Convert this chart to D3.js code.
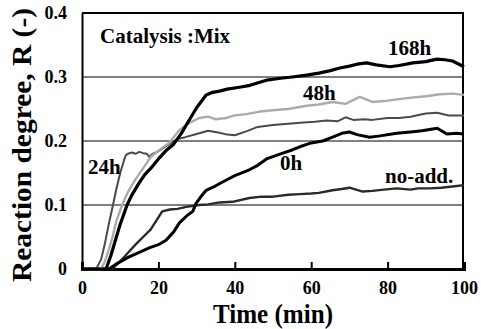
<!DOCTYPE html>
<html><head><meta charset="utf-8">
<script src="https://cdn.jsdelivr.net/npm/d3@7"></script>
</head><body style="margin:0">
<script>
const xTicks = [0, 20, 40, 60, 80, 100];
const yTicks = [0, 0.1, 0.2, 0.3, 0.4];
const yTickLabels = ["0", "0.1", "0.2", "0.3", "0.4"];

const t24 = [0,3.7,5,6,7,8,9,10,11,11.5,12,13,14,15,16,17,17.6,18.5,20,21,22,23.6,25,27,30,33,36,38,40,43,46,50,54,58,61,64,67,69,71,74,76,80,83,86,90,93,96,100];
const r24 = [0,0,0.015,0.04,0.07,0.097,0.125,0.15,0.17,0.178,0.18,0.182,0.18,0.183,0.181,0.18,0.175,0.18,0.184,0.188,0.192,0.198,0.203,0.206,0.211,0.216,0.213,0.21,0.209,0.215,0.222,0.225,0.227,0.229,0.23,0.232,0.231,0.237,0.233,0.234,0.233,0.236,0.236,0.238,0.243,0.244,0.24,0.24];

const t48 = [0,5,6,7,8,9,10.5,12,14,16.3,18,20,22.8,25.5,28,30.7,33,35,37.8,40,43,46.5,50,54,58.8,62,65.6,69,72.7,76,80,85,90,93.7,97,100];
const r48 = [0,0,0.012,0.03,0.05,0.075,0.1,0.12,0.14,0.16,0.175,0.185,0.197,0.217,0.228,0.236,0.238,0.234,0.236,0.24,0.242,0.246,0.248,0.25,0.255,0.257,0.261,0.258,0.269,0.261,0.263,0.267,0.27,0.273,0.274,0.272];

const t168 = [0,6.3,7.5,9,10,11.8,13,15,16.5,18.4,20,22,24,26,28,30,32.5,34.2,36,38,41.2,44,48.3,52,55,58.8,62,65,67.5,70,72,74.5,77,80.6,83,86.6,90,92.9,95,97,100];
const r168 = [0,0,0.02,0.05,0.07,0.1,0.115,0.135,0.148,0.16,0.172,0.185,0.195,0.212,0.232,0.252,0.272,0.276,0.278,0.281,0.284,0.287,0.295,0.298,0.3,0.303,0.306,0.31,0.314,0.317,0.32,0.322,0.319,0.316,0.318,0.322,0.324,0.328,0.327,0.325,0.316];

const t0 = [0,7.1,9,12.3,15,17.6,20,22,24,25.5,27.6,29,29.9,31,32.5,35,37.8,40,43.8,46,48.3,52,55,57,60,63,65.6,68,70,72,75.3,78,82.4,86,89,91,93,95.5,98,100];
const r0 = [0,0,0.008,0.019,0.026,0.033,0.038,0.045,0.058,0.072,0.084,0.09,0.103,0.112,0.123,0.13,0.139,0.146,0.155,0.162,0.172,0.18,0.186,0.191,0.197,0.2,0.206,0.212,0.214,0.21,0.206,0.208,0.212,0.214,0.216,0.218,0.22,0.211,0.212,0.211];

const tNo = [0,7.9,10,12,14,16,18,21,23,25,27.3,30.7,33,36,39.4,43.8,47,50,54,57,60,62,65.6,68,70,73.5,76,79,82.4,86,88,91,94,97,100];
const rNo = [0,0,0.012,0.025,0.038,0.05,0.062,0.09,0.093,0.094,0.097,0.1,0.101,0.104,0.105,0.111,0.113,0.113,0.116,0.117,0.118,0.119,0.123,0.125,0.127,0.121,0.122,0.124,0.126,0.124,0.126,0.126,0.127,0.129,0.131];

const seriesNames = ["no-add.", "0h", "24h", "48h", "168h"];
const seriesT = [tNo, t0, t24, t48, t168];
const seriesR = [rNo, r0, r24, r48, r168];

const W = 481, H = 329;
const font = "Liberation Serif";
const svg = d3.select("body").append("svg").attr("width", W).attr("height", H)
  .style("display", "block").style("font-family", font).style("font-weight", "bold");
const x = d3.scaleLinear().domain([0, 100]).range([82, 464]);
const y = d3.scaleLinear().domain([0, 0.4]).range([269, 13]);

// gridlines
svg.append("g").selectAll("line").data([0.1, 0.2, 0.3]).join("line")
  .attr("x1", x(0)).attr("x2", x(100))
  .attr("y1", d => y(d)).attr("y2", d => y(d))
  .attr("stroke", "#000").attr("stroke-width", 1);

// frame
svg.append("line").attr("x1", x(0)).attr("x2", x(100)).attr("y1", y(0.4)).attr("y2", y(0.4)).attr("stroke", "#000").attr("stroke-width", 2);
svg.append("line").attr("x1", 463).attr("x2", 463).attr("y1", y(0.4)).attr("y2", y(0)).attr("stroke", "#000").attr("stroke-width", 2);

// x axis
const xAxis = d3.axisBottom(x).tickValues(xTicks).tickSize(-7).tickPadding(12).tickFormat(d3.format("d"));
const gx = svg.append("g").attr("transform", `translate(0,${y(0)})`).call(xAxis)
  .attr("font-family", null).attr("font-size", null);
gx.select(".domain").attr("stroke-width", 3);
gx.selectAll(".tick line").attr("stroke-width", 2).filter(d => d === 0 || d === 100).remove();
gx.selectAll("text").style("font-family", font).style("font-weight", "bold").style("font-size", "18px").attr("fill", "#000");

// y axis
const yAxis = d3.axisLeft(y).tickValues(yTicks).tickSize(0).tickPadding(15).tickFormat((d, i) => yTickLabels[i]);
const gy = svg.append("g").attr("transform", `translate(${x(0)},0)`).call(yAxis)
  .attr("font-family", null).attr("font-size", null);
gy.select(".domain").attr("stroke-width", 2);
gy.selectAll("text").style("font-family", font).style("font-weight", "bold").style("font-size", "18px").attr("fill", "#000");

// curves
const styles = {
  "no-add.": {c: "#2a2a2a", w: 2.4},
  "0h": {c: "#000", w: 3},
  "24h": {c: "#4a4a4a", w: 2},
  "48h": {c: "#ababab", w: 2.4},
  "168h": {c: "#000", w: 3.2}
};
const line = d3.line().x(d => x(d[0])).y(d => y(d[1]));
seriesNames.forEach((name, i) => {
  const pts = seriesT[i].map((t, j) => [t, seriesR[i][j]]);
  svg.append("path").datum(pts).attr("d", line)
    .attr("fill", "none").attr("stroke", styles[name].c)
    .attr("stroke-width", styles[name].w).attr("stroke-linejoin", "round");
});

// labels
const txt = (s, xx, yy, size, anchor) => svg.append("text").text(s).attr("x", xx).attr("y", yy)
  .style("font-family", font).style("font-weight", "bold").style("font-size", size + "px")
  .attr("text-anchor", anchor || "start").attr("fill", "#000");
txt("Catalysis :Mix", 100, 43, 21);
txt("168h", 388, 55, 21);
txt("48h", 303, 100, 21);
txt("24h", 88, 174, 21);
txt("0h", 280, 170, 21);
txt("no-add.", 385, 183, 21);

txt("Time (min)", 273, 323, 27, "middle").attr("textLength", 120).attr("lengthAdjust", "spacingAndGlyphs");
svg.append("text").text("Reaction degree, R (-)")
  .attr("transform", "translate(31,145) rotate(-90)")
  .attr("text-anchor", "middle").style("font-family", font).style("font-weight", "bold")
  .style("font-size", "28px").attr("textLength", 274).attr("lengthAdjust", "spacingAndGlyphs").attr("fill", "#000");
</script>
</body></html>
